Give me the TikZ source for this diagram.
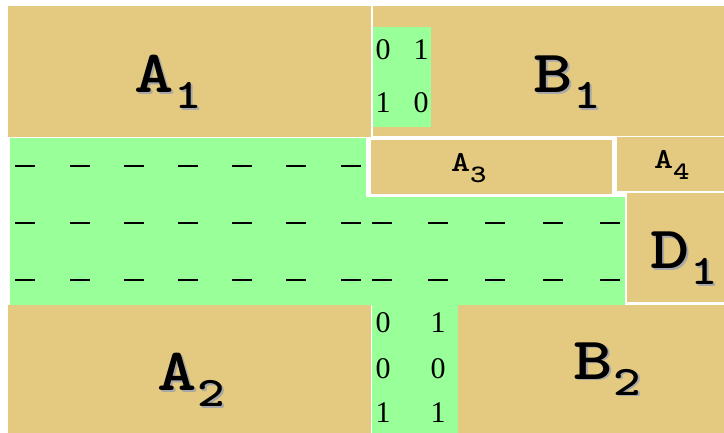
\documentclass[tikz,border=0pt]{standalone}
\usepackage{fontspec}
\setmainfont{Liberation Serif}
\definecolor{boxtan}{HTML}{E4CA80}
\definecolor{boxgreen}{HTML}{99FF99}
\definecolor{shadowgray}{HTML}{A8A8A8}
\newcommand\lbltxt[6]{\scalebox{1.25}[1]{{\ttfamily\bfseries\fontsize{#3}{#3}\selectfont #1}\kern#6\raisebox{-#5}{\ttfamily\bfseries\fontsize{#4}{#4}\selectfont #2}}}
\newcommand\biglbl[2]{\lbltxt{#1}{#2}{60pt}{42pt}{16pt}{1pt}}
\newcommand\smalllbl[2]{\lbltxt{#1}{#2}{29pt}{25pt}{11pt}{0pt}}
\begin{document}
\begin{tikzpicture}[x=1pt,y=-1pt,
  tanbox/.style={fill=boxtan},
  greenbox/.style={fill=boxgreen},
  lbl/.style={inner sep=0pt, anchor=base west, text=black},
  shd/.style={inner sep=0pt, anchor=base west, text=shadowgray},
  digit/.style={inner sep=0pt, font=\fontsize{30}{30}\selectfont},
  blankline/.style={line width=1.8pt, black}]
\useasboundingbox (0,0) rectangle (724,433);
\fill[white] (0,0) rectangle (724,433);
% top row
\fill[tanbox] (8,6) rectangle (371,137);
\fill[tanbox] (372.5,6) rectangle (724,136.5);
\fill[greenbox] (372.5,27) rectangle (431,127);
% middle green
\fill[greenbox] (10,138) rectangle (366,305);
\fill[greenbox] (366,197) rectangle (625,305);
% A3 box
\fill[white] (366,137.5) rectangle (615,197.5);
\fill[tanbox] (370.5,140.5) rectangle (612,194.5);
% A4 and D1
\filldraw[tanbox, draw=white, line width=1pt] (616,137) rectangle (725,192);
\filldraw[tanbox, draw=white, line width=1pt] (626,192.5) rectangle (725,303);
% bottom row
\fill[tanbox] (8,305) rectangle (371,434);
\fill[tanbox] (372,305) rectangle (724,434);
\fill[greenbox] (372,305) rectangle (458,434);
% blanks
\foreach \y in {166,223,280}{
  \foreach \x in {25,80,134,188,242,296,351}{
    \draw[blankline] (\x-10,\y) -- (\x+10,\y);
  }
}
\foreach \y in {223,280}{
  \foreach \x in {382,438,495,553,610}{
    \draw[blankline] (\x-10,\y) -- (\x+10,\y);
  }
}
% top matrix
\node[digit] (m11) at (383,50) {0};
\node[digit] (m12) at (421,50) {1};
\node[digit] (m21) at (383,103) {1};
\node[digit] (m22) at (421,103) {0};
% bottom matrix
\node[digit] (n11) at (383,323) {0};
\node[digit] (n12) at (438,323) {1};
\node[digit] (n21) at (383,369) {0};
\node[digit] (n22) at (438,369) {0};
\node[digit] (n31) at (383,413) {1};
\node[digit] (n32) at (438,413) {1};
% labels
\node[shd] (A1s) at (136,95) {\biglbl{A}{1}};
\node[lbl] (A1) at (134,93) {\biglbl{A}{1}};
\node[shd] (B1s) at (535,95) {\biglbl{B}{1}};
\node[lbl] (B1) at (533,93) {\biglbl{B}{1}};
\node[shd] (A2s) at (159,392) {\biglbl{A}{2}};
\node[lbl] (A2) at (157,390) {\biglbl{A}{2}};
\node[shd] (B2s) at (575,381) {\biglbl{B}{2}};
\node[lbl] (B2) at (573,379) {\biglbl{B}{2}};
\node[shd] (D1s) at (652,271) {\biglbl{D}{1}};
\node[lbl] (D1) at (650,269) {\biglbl{D}{1}};
\node[lbl] (A3) at (451,172) {\smalllbl{A}{3}};
\node[lbl] (A4) at (654,169) {\smalllbl{A}{4}};
\end{tikzpicture}
\end{document}
